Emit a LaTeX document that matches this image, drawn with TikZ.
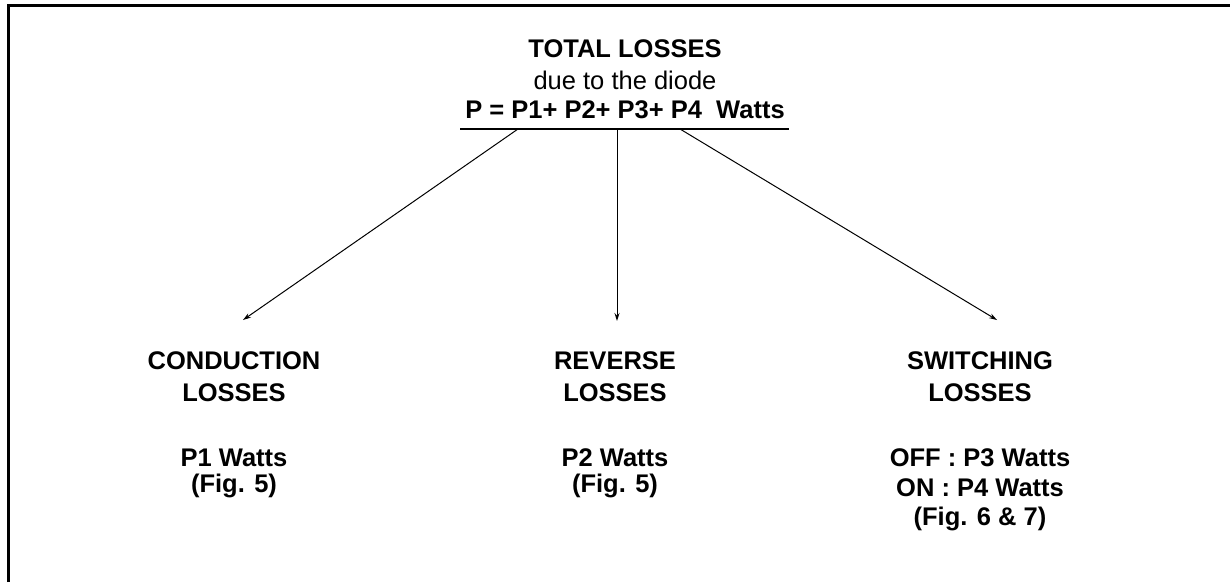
\documentclass[tikz,border=0pt]{standalone}
\usepackage{fontspec}
\setmainfont{Liberation Sans}
\usetikzlibrary{arrows.meta}
\begin{document}
\begin{tikzpicture}[x=1pt,y=-1pt,
  bold/.style={font=\bfseries\fontsize{25.5}{30}\selectfont, anchor=base, inner sep=0pt},
  plain/.style={font=\fontsize{25.5}{30}\selectfont, anchor=base, inner sep=0pt},
  conn/.style={line width=1pt, -{Stealth[length=8pt,width=5pt]}}]
\useasboundingbox (0,0) rectangle (1230,582);
\draw[line width=3pt] (8.5,582) -- (8.5,5.5) -- (1230,5.5);
% title
\node[bold] (t1) at (625,57) {TOTAL LOSSES};
\node[plain] (t2) at (625,89) {due to the diode};
\node[bold] (t3) at (625,118) {P = P1+ P2+ P3+ P4\ \ Watts};
\coordinate (ulL) at (460,129);
\coordinate (ulR) at (789,129);
\draw[line width=1.5pt] (ulL) -- (ulR);
\coordinate (sA) at (518,129);
\coordinate (sB) at (617,129);
\coordinate (sC) at (680,129);
\coordinate (eA) at (243,320);
\coordinate (eB) at (617,321);
\coordinate (eC) at (997,320);
\draw[conn] (sA) -- (eA);
\draw[conn] (sB) -- (eB);
\draw[conn] (sC) -- (eC);
% left column
\node[bold] (a1) at (234,369) {CONDUCTION};
\node[bold] (a2) at (234,401) {LOSSES};
\node[bold] (a3) at (234,466) {P1 Watts};
\node[bold] (a4) at (234,492) {(Fig. 5)};
% middle column
\node[bold] (b1) at (615,369) {REVERSE};
\node[bold] (b2) at (615,401) {LOSSES};
\node[bold] (b3) at (615,466) {P2 Watts};
\node[bold] (b4) at (615,492) {(Fig. 5)};
% right column
\node[bold] (c1) at (980,369) {SWITCHING};
\node[bold] (c2) at (980,401) {LOSSES};
\node[bold] (c3) at (980,466) {OFF : P3 Watts};
\node[bold] (c4) at (980,496) {ON : P4 Watts};
\node[bold] (c5) at (980,525) {(Fig. 6 \& 7)};
\end{tikzpicture}
\end{document}
